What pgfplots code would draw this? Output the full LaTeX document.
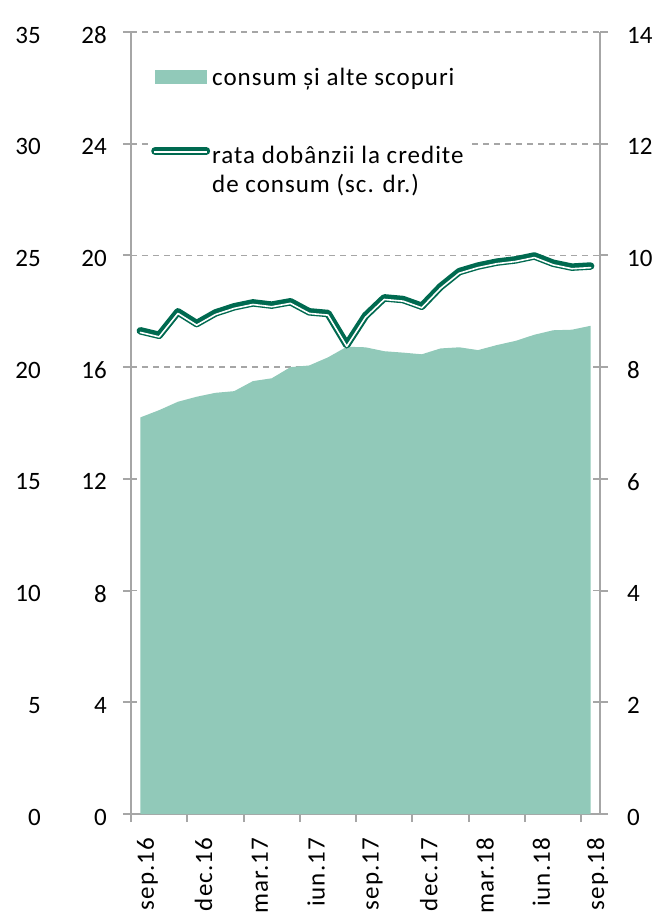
\documentclass[border=0pt]{standalone}
\usepackage{fontspec}
\setmainfont{Carlito}
\newfontfamily\lsfont{Carlito}[LetterSpace=4]
\usepackage{pgfplots}
\pgfplotsset{compat=1.18}
\definecolor{areac}{RGB}{145,201,185}
\definecolor{linec}{RGB}{0,106,80}
\definecolor{axg}{RGB}{166,166,166}
\newcommand\fs{\fontsize{25}{29}\selectfont}
\begin{document}
\begin{tikzpicture}[font=\fs]
\pgfplotsset{
  common/.style={scale only axis, width=469pt, height=782pt,
    xmin=-0.5, xmax=24.5, ymin=0, at={(0,0)}, anchor=south west,
    /pgf/number format/assume math mode=true,
    tick label style={font=\fs},
    tick align=outside, major tick length=8pt,
    every tick/.style={axg, line width=2pt},
    axis line style={axg, line width=2.2pt}},
}
% outer (unused) label scale 0..35
\begin{axis}[common, ymax=35, ytick={0,5,...,35},
  axis x line=none, axis y line*=left,
  y axis line style={draw=none}, ytick style={draw=none}, major tick length=0pt,
  yticklabel style={inner sep=0pt, xshift=-90pt, yshift=-3pt}]
\addplot[draw=none] coordinates {(0,0)};
\end{axis}
% left axis with area
\begin{axis}[common, ymax=28, ytick={0,4,...,28},
  axis x line*=bottom, axis y line*=left,
  ymajorgrids, major grid style={axg, line width=1.8pt, dash pattern=on 6pt off 5pt},
  xtick={0,3,...,24},
  xticklabels={sep.16,dec.16,mar.17,iun.17,sep.17,dec.17,mar.18,iun.18,sep.18},
  xtick style={draw=none},
  xticklabel style={font=\fs\lsfont, rotate=90, anchor=east, inner sep=0pt, xshift=-16pt, yshift=-7pt},
  extra x ticks={-0.5,2.5,...,23.5}, extra x tick labels={},
  extra x tick style={xtick style={draw=axg}, grid=none},
  yticklabel style={inner sep=0pt, xshift=-16pt, yshift=-3pt},
  legend cell align=left,
  legend style={at={(rel axis cs:0,1)}, anchor=north west, xshift=17pt, yshift=-32pt,
    draw=none, fill=white, font=\fs\lsfont, align=left, row sep=55pt},
]
\addplot[fill=areac, draw=none,
  legend image code/.code={\path (0pt,0pt) (59pt,0pt);\fill[areac] (3.5pt,-6pt) rectangle (55.5pt,8pt);}]
  coordinates {
(0,14.20) (1,14.46) (2,14.76) (3,14.94) (4,15.08) (5,15.14) (6,15.50) (7,15.60)
(8,16.00) (9,16.06) (10,16.35) (11,16.73) (12,16.71) (13,16.57) (14,16.52) (15,16.46)
(16,16.67) (17,16.71) (18,16.61) (19,16.79) (20,16.94) (21,17.16) (22,17.32) (23,17.34) (24,17.48)
} \closedcycle;
\addlegendentry{consum și alte scopuri}
\addlegendimage{legend image code/.code={\draw[linec, line width=8pt, line cap=round] (4pt,19pt) -- (55pt,19pt);\draw[white, line width=1.6pt] (3pt,18pt) -- (56pt,18pt);}}
\addlegendentry{rata dobânzii la credite\\de consum (sc. dr.)}
\node[font=\fs\lsfont, anchor=base west, inner sep=0pt, xshift=2pt, yshift=6pt] at (rel axis cs:0,1) {mld. lei};
\node[font=\fs\lsfont, anchor=base east, inner sep=0pt, yshift=6pt] at (rel axis cs:1,1) {\% p.a., flux};
\end{axis}
% right axis with line
\begin{axis}[common, ymax=14, ytick={0,2,...,14},
  axis x line=none, axis y line*=right,
  yticklabel style={inner sep=0pt, xshift=19pt, yshift=-3pt}]
\addplot[linec, line width=7.5pt, line join=round, line cap=round, mark=none,
  postaction={draw=white, line width=1.6pt, line join=round, transform canvas={yshift=-1.6pt}}]
  coordinates {
(0,8.65) (1,8.57) (2,8.99) (3,8.78) (4,8.97) (5,9.08) (6,9.15) (7,9.11)
(8,9.17) (9,8.99) (10,8.96) (11,8.40) (12,8.92) (13,9.24) (14,9.21) (15,9.09)
(16,9.44) (17,9.71) (18,9.81) (19,9.88) (20,9.92) (21,9.99) (22,9.86) (23,9.79) (24,9.81)
};
\end{axis}
\pgfresetboundingbox
\path[use as bounding box] (-131pt,-98pt) rectangle (527pt,814pt);
\end{tikzpicture}
\end{document}
